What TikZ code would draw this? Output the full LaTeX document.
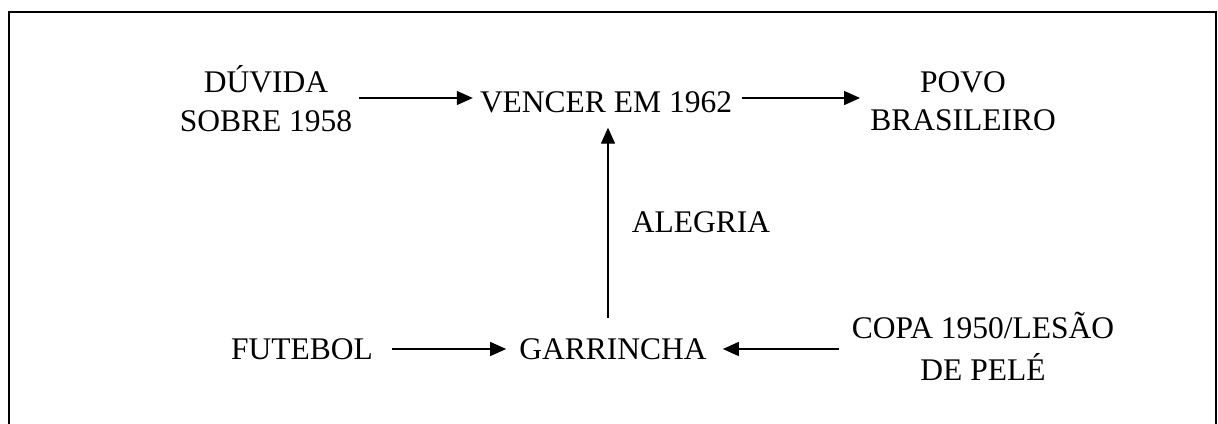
\documentclass[tikz,border=0pt]{standalone}
\usepackage{fontspec}
\setmainfont{Liberation Serif}
\usetikzlibrary{arrows.meta}
\tikzset{
  lbl/.style={inner sep=0pt, anchor=base, font=\fontsize{31.5}{39}\selectfont},
  arr/.style={line width=1.3pt, -{Triangle[length=16pt,width=14pt]}},
  frame/.style={line width=2.5pt}
}
\begin{document}
\begin{tikzpicture}[x=1pt,y=-1pt]
\useasboundingbox (0,0) rectangle (1218,423);
\draw[frame] (9,424) -- (9,12) -- (1216,12) -- (1216,424);
\node[lbl] (duvida) at (266,92) {\begin{tabular}[t]{@{}c@{}}DÚVIDA\\SOBRE 1958\end{tabular}};
\node[lbl] (vencer) at (606,112) {VENCER EM 1962};
\node[lbl] (povo) at (963,92) {\begin{tabular}[t]{@{}c@{}}POVO\\[-1pt]BRASILEIRO\end{tabular}};
\node[lbl] (alegria) at (701,232) {ALEGRIA};
\node[lbl] (futebol) at (302,359) {FUTEBOL};
\node[lbl] (garrincha) at (613,359) {GARRINCHA};
\node[lbl] (copa) at (983,338) {\begin{tabular}[t]{@{}c@{}}COPA 1950/LESÃO\\[3pt]DE PELÉ\end{tabular}};
\coordinate (a1) at (duvida.east |- 0,98);
\draw[arr, shorten <=7pt, shorten >=7pt] (a1) -- (a1 -| vencer.west);
\coordinate (a2) at (vencer.east |- 0,98);
\draw[arr, shorten <=10pt, shorten >=10pt] (a2) -- (a2 -| povo.west);
\coordinate (a3) at ([xshift=-5pt]garrincha.north);
\draw[arr, shorten <=20pt, shorten >=15pt] (a3) -- (a3 |- vencer.south);
\coordinate (a4) at (futebol.east |- 0,349);
\draw[arr, shorten <=19pt, shorten >=13pt] (a4) -- (a4 -| garrincha.west);
\coordinate (a5) at (copa.west |- 0,349);
\draw[arr, shorten <=13pt, shorten >=16pt] (a5) -- (a5 -| garrincha.east);
\end{tikzpicture}
\end{document}
